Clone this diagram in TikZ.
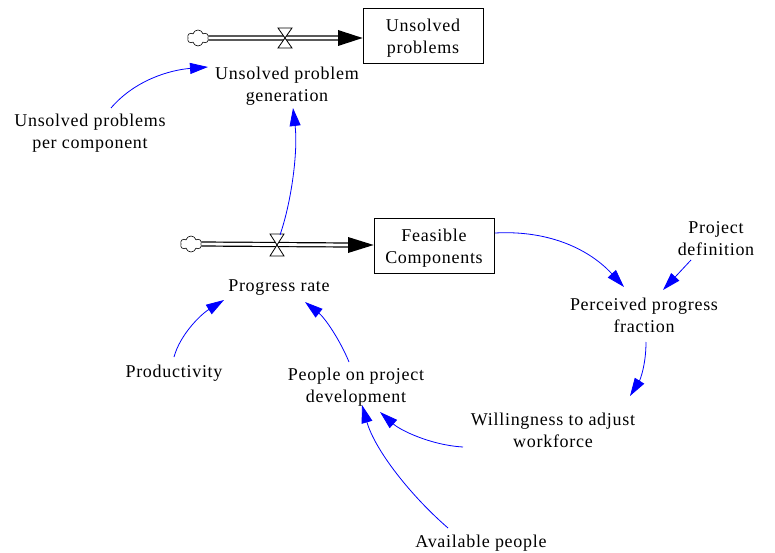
\documentclass[tikz,border=0pt]{standalone}
\usepackage{fontspec}
\setmainfont{Liberation Serif}[LetterSpace=4]
\usetikzlibrary{arrows.meta,shapes.symbols,calc}
\begin{document}
\begin{tikzpicture}[x=1pt,y=-1pt,
 txt/.style={font=\fontsize{18}{22.6}\selectfont, align=center, inner sep=0pt, text height=13pt, text depth=0pt},
 two/.style={txt, text height=35.6pt, text depth=0pt},
 stock/.style={two, draw, line width=0.8pt, minimum width=120pt, minimum height=55pt},
 link/.style={draw=blue, line width=0.8pt, -{Triangle[length=18pt,width=11pt]}},
 pipe/.style={draw=black, line width=1.2pt, double=white, double distance=2.8pt},
 cloudnode/.style={cloud, cloud puffs=6, cloud ignores aspect, draw, line width=0.6pt, minimum width=21pt, minimum height=16pt, inner sep=0pt},
 valve/.style={draw, fill=white, line width=0.8pt, line join=miter}]
\useasboundingbox (0,0) rectangle (775,553);

% top flow
\node[cloudnode] (cl1) at (198,38) {};
\coordinate (v1) at (285,38);
\coordinate (h1) at (338,38);
\node[stock] (s1) at (423,36) {Unsolved\\problems};
\draw[pipe] (cl1.east) -- (h1);
\fill (h1) -- ++(0,-8) -- (s1.west |- v1) -- ($(h1)+(0,8)$) -- cycle;
\draw[valve] ($(v1)+(-7,-10)$) -- ++(14,0) -- ++(-14,20) -- ++(14,0) -- cycle;
\node[two] (gen) at (287,84) {Unsolved problem\\generation};

% bottom flow
\node[cloudnode] (cl2) at (191,244) {};
\coordinate (v2) at (277,245);
\coordinate (h2) at (348,245);
\node[stock] (s2) at (434,246) {Feasible\\Components};
\draw[pipe] (cl2.east) -- (h2);
\fill (h2) -- ++(0,-8) -- (s2.west |- v2) -- ($(h2)+(0,8)$) -- cycle;
\draw[valve] ($(v2)+(-7,-11)$) -- ++(14,0) -- ++(-14,22) -- ++(14,0) -- cycle;
\node[txt] (prog) at (279,285) {Progress rate};

% auxiliaries
\node[two] (per) at (90,131) {Unsolved problems\\per component};
\node[two] (proj) at (716,238) {Project\\definition};
\node[two] (perc) at (644,315) {Perceived progress\\fraction};
\node[two] (will) at (553,430) {Willingness to adjust\\workforce};
\node[two] (peop) at (356,385) {People on project\\development};
\node[txt] (prod) at (174,371) {Productivity};
\node[txt] (avail) at (481,541) {Available people};

% links
\draw[link] ([shift={(21,-23)}]per.center) .. controls (135,80) and (170,70) .. ([shift={(-79,-17)}]gen.center);
\draw[link] ([shift={(3,-10)}]v2) .. controls (292,200) and (298,150) .. ([shift={(6,24)}]gen.center);
\draw[link] ([shift={(61,-13)}]s2.center) .. controls (550,230) and (590,250) .. ([shift={(-20,-28)}]perc.center);
\draw[link] ([shift={(-25,22)}]proj.center) -- ([shift={(19,-25)}]perc.center);
\draw[link] ([shift={(2,27)}]perc.center) .. controls (646,365) and (640,380) .. ([shift={(77,-34)}]will.center);
\draw[link] ([shift={(-90,17)}]will.center) .. controls (430,445) and (400,430) .. ([shift={(24,27)}]peop.center);
\draw[link] ([shift={(-7,-23)}]peop.center) .. controls (340,340) and (325,318) .. ([shift={(26,17)}]prog.center);
\draw[link] ([shift={(0,-14)}]prod.center) .. controls (180,335) and (200,315) .. ([shift={(-55,15)}]prog.center);
\draw[link] ([shift={(-33,-13)}]avail.center) .. controls (410,495) and (375,450) .. ([shift={(6,20)}]peop.center);
\end{tikzpicture}
\end{document}
